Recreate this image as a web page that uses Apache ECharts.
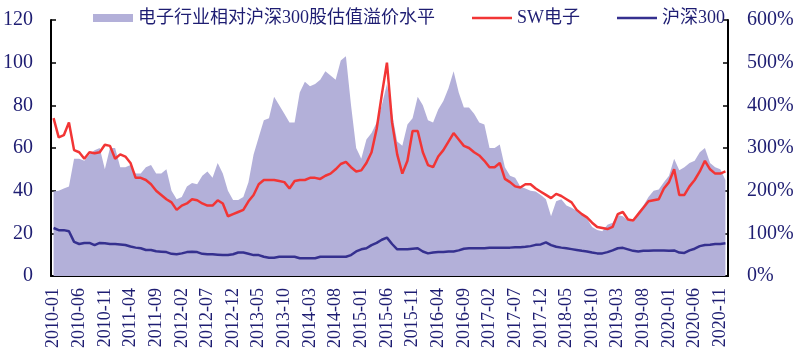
<!DOCTYPE html>
<html>
<head>
<meta charset="utf-8">
<script src="https://cdn.jsdelivr.net/npm/echarts@6/dist/echarts.min.js"></script>
<style>html,body{margin:0;padding:0;background:#fff}#c{width:800px;height:355px}</style>
</head>
<body>
<div id="c"></div>
<script>
// categories: monthly, 2010-01 .. 2020-12
const months = [];
for (let y = 2010; y <= 2020; y++) {
  for (let m = 1; m <= 12; m++) months.push(y + '-' + (m < 10 ? '0' + m : '' + m));
}
// 电子行业相对沪深300股估值溢价水平 (%), right axis
const premium = [198,200,205,210,275,275,270,285,295,300,
250,300,300,255,255,260,240,240,255,260,
240,240,250,200,180,185,210,218,215,235,
245,230,265,240,200,178,178,185,220,285,
325,365,370,420,400,380,360,360,430,455,
445,450,460,480,470,460,505,515,400,300,
275,320,335,360,400,450,380,315,305,355,
370,420,400,365,360,390,410,440,480,430,
395,395,380,360,355,300,300,308,255,235,
230,210,205,200,198,190,180,140,175,180,
165,160,153,145,135,115,108,105,120,125,
143,140,130,128,150,165,185,200,203,220,
235,275,248,255,265,270,290,300,265,255,
250,225];
// SW电子 PE, left axis
const swElec = [74,65,66,72,59,58,55,58,57.5,58,
61.5,61,55,57,56,53,46,46,45,43,
40,38,36,34.5,31,33,34,36,35.5,34,
33,33,35.5,34,28,29,30,31,35,38,
43,45,45,45,44.5,44,41,44.5,45,45,
46,46,45.5,47,48,50,52.5,53.5,51,49,
49.5,53,58,69,85,100,72,57,48,54,
68,68,58,52,51,56,59,63,67,64,
61,60,58,56.5,54,51,51,53,45.5,44,
42,41.5,43,43,41,39.5,38,36.5,38.5,37.5,
36,34.5,31,29,27.5,25,23,22.5,22,23,
29,30,26.5,26,29,32,35,35.5,36,41,
44,50,38,38,42,45,49,54,50,48,
48,49];
// 沪深300 PE, left axis
const hs300 = [22.5,21.5,21.5,21,16,15,15.5,15.5,14.5,15.5,
15.3,15,15,14.8,14.5,13.8,13.3,13,12.2,12.2,
11.6,11.4,11.2,10.4,10.2,10.6,11.2,11.4,11.2,10.4,
10.2,10.2,10,9.8,9.8,10.2,11,11,10.4,9.8,
9.8,9,8.6,8.6,9,9,9,9,8.3,8.3,
8.3,8.3,9,9,9,9,9,9,9.8,11.5,
12.5,13,14.5,15.5,17,18,15,12.5,12.5,12.5,
12.8,13,11.5,10.6,11,11.2,11.3,11.5,11.5,12,
12.8,13,13,13,13,13.2,13.2,13.3,13.3,13.3,
13.5,13.5,13.7,14,14.6,14.8,15.8,14.5,13.7,13.3,
13,12.6,12.2,11.8,11.5,11,10.6,10.6,11.2,12,
13,13.2,12.5,11.8,11.5,11.8,11.8,12,12,12,
11.8,12,11,10.8,12,12.8,14,14.5,14.7,15,
15,15.3];
const leftTicks = {min: 0, max: 120, step: 20};
const rightTicks = {min: 0, max: 600, step: 100};

const NAVY = '#1e1d72';
const FONT = '"Liberation Serif", "Noto Sans CJK SC", serif';
const LINE_ICON = 'path://M0 0H40V2.5H0Z';
const chart = echarts.init(document.getElementById('c'), null, {renderer: 'canvas'});
chart.setOption({
  animation: false,
  backgroundColor: '#fff',
  legend: {
    left: 88, top: 4, itemWidth: 40, itemHeight: 8, itemGap: 37, symbolKeepAspect: true,
    textStyle: {color: NAVY, fontSize: 18, fontFamily: FONT},
    data: [
      {name: '电子行业相对沪深300股估值溢价水平', icon: 'rect'},
      {name: 'SW电子', icon: LINE_ICON},
      {name: '沪深300', icon: LINE_ICON}
    ]
  },
  grid: {left: 51, right: 72, top: 20, bottom: 79, containLabel: false},
  xAxis: {
    type: 'category', data: months, boundaryGap: true,
    axisLine: {lineStyle: {color: '#000', width: 2}},
    axisTick: {inside: true, length: 5, interval: 4, lineStyle: {color: '#000', width: 1.5}},
    axisLabel: {interval: 4, rotate: 90, margin: 12, fontSize: 18, color: NAVY, fontFamily: FONT},
    splitLine: {show: false}
  },
  yAxis: [
    {
      type: 'value', position: 'left', min: leftTicks.min, max: leftTicks.max, interval: leftTicks.step,
      axisLine: {show: true, lineStyle: {color: '#000', width: 2}},
      axisTick: {show: true, inside: true, length: 5, lineStyle: {color: '#000', width: 1.5}},
      axisLabel: {margin: 18, fontSize: 20, color: NAVY, fontFamily: FONT},
      splitLine: {show: false}
    },
    {
      type: 'value', position: 'right', min: rightTicks.min, max: rightTicks.max, interval: rightTicks.step,
      axisLine: {show: true, lineStyle: {color: '#000', width: 2}},
      axisTick: {show: true, inside: true, length: 5, lineStyle: {color: '#000', width: 1.5}},
      axisLabel: {margin: 19, fontSize: 20, color: NAVY, fontFamily: FONT, formatter: '{value}%'},
      splitLine: {show: false}
    }
  ],
  series: [
    {
      name: '电子行业相对沪深300股估值溢价水平', type: 'line', yAxisIndex: 1, data: premium,
      symbol: 'none', color: '#b3b0d9',
      lineStyle: {width: 0}, areaStyle: {color: '#b3b0d9', opacity: 1}, z: 1
    },
    {
      name: 'SW电子', type: 'line', yAxisIndex: 0, data: swElec,
      symbol: 'none', color: '#f23535', lineStyle: {width: 2.5, color: '#f23535'}, z: 3
    },
    {
      name: '沪深300', type: 'line', yAxisIndex: 0, data: hs300,
      symbol: 'none', color: '#35308f', lineStyle: {width: 2.5, color: '#35308f'}, z: 2
    }
  ]
});
</script>
</body>
</html>
